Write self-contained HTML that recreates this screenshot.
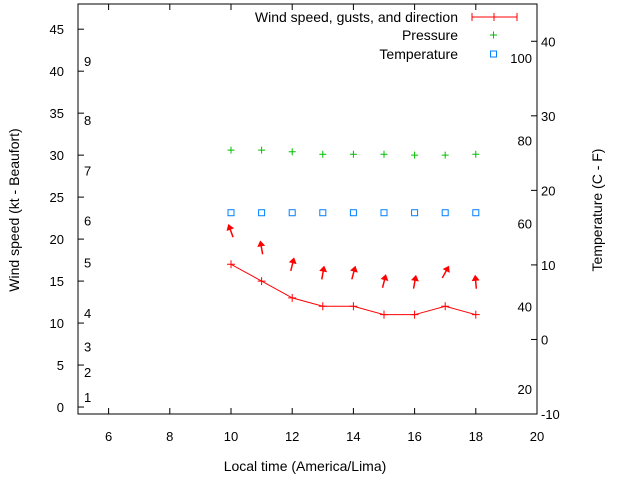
<!DOCTYPE html>
<html><head><meta charset="utf-8"><style>body{margin:0;background:#fff}svg{display:block;font-family:"Liberation Sans",sans-serif}</style></head><body>
<svg id="c" width="640" height="480"></svg>
<script>
const hours=[10,11,12,13,14,15,16,17,18];
const windSpeed=[17,15,13,12,12,11,11,12,11];
const gustSpeed=[20.9,18.9,16.9,15.9,15.9,14.9,14.8,16.0,14.8];
const gustDir=[-20,-10,14,10,15,14,10,29,-5];
const pressure=[30.6,30.6,30.4,30.1,30.1,30.1,30.0,30.0,30.1];
const temperature=[17,17,17,17,17,17,17,17,17];
const xTicks=[6,8,10,12,14,16,18,20];
const yTicks=[0,5,10,15,20,25,30,35,40,45];
const y2Ticks=[-10,0,10,20,30,40];
const beaufortPos=[[1,1.2],[2,4.2],[3,7.2],[4,11.2],[5,17.2],[6,22.2],[7,28.2],[8,34.2],[9,41.2]];
const fahrenheit=[20,40,60,80,100];
const L=78,R=537,T=4,B=414;
const xs=v=>L+(v-5)*(R-L)/15;
const ys=v=>B-(v+0.83)*(B-T)/48.83;
const y2s=v=>B-(v+10)*(B-T)/55;
const svg=document.getElementById('c');const NS='http://www.w3.org/2000/svg';
function el(t,a,txt){const e=document.createElementNS(NS,t);for(const k in a)e.setAttribute(k,a[k]);if(txt!==undefined)e.textContent=txt;svg.appendChild(e);return e;}
let e=el('rect',{x:L,y:T,width:R-L,height:B-T,fill:'none',stroke:'#000','stroke-width':1});

xTicks.forEach(v=>{const x=xs(v);el('line',{x1:x,y1:B,x2:x,y2:B-6,stroke:'#000'});el('line',{x1:x,y1:T,x2:x,y2:T+6,stroke:'#000'});
 e=el('text',{x:x,y:B+27,'text-anchor':'middle','font-size':13},v);});
yTicks.forEach(v=>{const y=ys(v);el('line',{x1:L,y1:y,x2:L+6,y2:y,stroke:'#000'});
 e=el('text',{x:L-14,y:y+5,'text-anchor':'end','font-size':13},v);});
y2Ticks.forEach(v=>{const y=y2s(v);el('line',{x1:R,y1:y,x2:R-6,y2:y,stroke:'#000'});
 e=el('text',{x:R+4,y:y+5,'font-size':13},v);});
beaufortPos.forEach(([b,v])=>{e=el('text',{x:84,y:ys(v)+5,'font-size':13},b);});
fahrenheit.forEach(f=>{e=el('text',{x:532,y:y2s((f-32)*5/9)+5,'text-anchor':'end','font-size':13},f);});
e=el('text',{x:305,y:471,'text-anchor':'middle','font-size':14},'Local time (America/Lima)');
e=el('text',{x:0,y:0,'text-anchor':'middle','font-size':14,transform:'translate(19,210) rotate(-90)'},'Wind speed (kt - Beaufort)');
e=el('text',{x:0,y:0,'text-anchor':'middle','font-size':14,transform:'translate(602,210) rotate(-90)'},'Temperature (C - F)');
// wind line
e=el('polyline',{points:hours.map((h,i)=>xs(h)+','+ys(windSpeed[i])).join(' '),fill:'none',stroke:'#f00','stroke-width':1});

hours.forEach((h,i)=>{const x=xs(h),y=ys(windSpeed[i]);e=el('path',{d:`M${x-4},${y}H${x+4}M${x},${y-4}V${y+4}`,stroke:'#f00'});});
// gust arrows
hours.forEach((h,i)=>{const x=xs(h),y=ys(gustSpeed[i]);const a=gustDir[i]*Math.PI/180;const dx=Math.sin(a)*6,dy=-Math.cos(a)*6;
 const hx=x+dx,hy=y+dy;const ux=dx/6,uy=dy/6;
 const g=document.createElementNS(NS,'g');svg.appendChild(g);
 
 const l=document.createElementNS(NS,'line');l.setAttribute('x1',x-dx);l.setAttribute('y1',y-dy);l.setAttribute('x2',hx);l.setAttribute('y2',hy);l.setAttribute('stroke','#f00');l.setAttribute('stroke-width',1.5);g.appendChild(l);
 const p=document.createElementNS(NS,'polygon');
 p.setAttribute('points',`${hx+ux*2},${hy+uy*2} ${hx-ux*4-uy*4},${hy-uy*4+ux*4} ${hx-ux*4+uy*4},${hy-uy*4-ux*4}`);p.setAttribute('fill','#f00');g.appendChild(p);});
// pressure
hours.forEach((h,i)=>{const x=xs(h),y=ys(pressure[i]);e=el('path',{d:`M${x-3.5},${y}H${x+3.5}M${x},${y-3.5}V${y+3.5}`,stroke:'#00c000'});});
// temperature
hours.forEach((h,i)=>{const x=xs(h),y=y2s(temperature[i]);e=el('rect',{x:x-3,y:y-3,width:6,height:6,fill:'none',stroke:'#0080ff'});});
// legend
e=el('text',{x:458,y:22,'text-anchor':'end','font-size':14},'Wind speed, gusts, and direction');
el('path',{d:'M472,17H517M472,13V21M517,13V21M494,13V21',stroke:'#f00'});
e=el('text',{x:458,y:40,'text-anchor':'end','font-size':14},'Pressure');
el('path',{d:'M490,35H497M493.5,31.5V38.5',stroke:'#00c000'});
e=el('text',{x:458,y:59,'text-anchor':'end','font-size':14},'Temperature');
el('rect',{x:490.5,y:51,width:6,height:6,fill:'none',stroke:'#0080ff'});
</script></body></html>
